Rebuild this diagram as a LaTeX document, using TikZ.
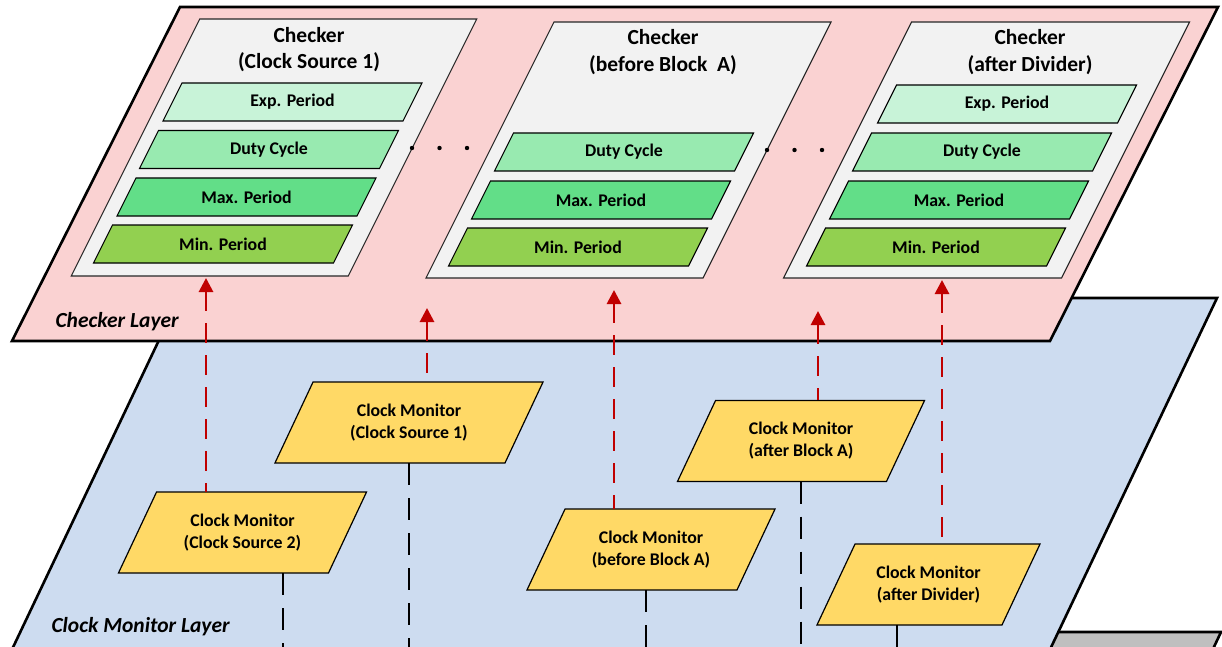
\documentclass[tikz,border=0pt]{standalone}
\usepackage{fontspec}
\setmainfont{Carlito}
\usetikzlibrary{arrows.meta,calc}

\definecolor{layerpink}{HTML}{FAD2D2}
\definecolor{layerblue}{HTML}{CDDCF0}
\definecolor{layergray}{HTML}{BFBFBF}
\definecolor{checkerbg}{HTML}{F2F2F2}
\definecolor{expcol}{HTML}{C8F3D8}
\definecolor{dutycol}{HTML}{98EAB0}
\definecolor{maxcol}{HTML}{62DE88}
\definecolor{mincol}{HTML}{92D050}
\definecolor{monitorcol}{HTML}{FFD966}
\definecolor{linkred}{HTML}{C00000}

% Slanted box: #1 outline style, #2 node name, #3 cx, #4 cy, #5 width, #6 height,
% #7 slant (horizontal shift per unit height), #8 node style, #9 text
\newcommand{\slanted}[9]{%
  \path[#1] ({#3-#5/2+#7*#6/2},{#4-#6/2}) -- ({#3+#5/2+#7*#6/2},{#4-#6/2})
    -- ({#3+#5/2-#7*#6/2},{#4+#6/2}) -- ({#3-#5/2-#7*#6/2},{#4+#6/2}) -- cycle;
  \node[#8, minimum width=#5pt, minimum height=#6pt, inner sep=0pt] (#2) at (#3,#4) {#9};}

\tikzset{
  layer/.style={draw=black, line width=2.6pt, line join=miter},
  chkbox/.style={draw=black!85, line width=1.1pt, fill=checkerbg},
  barbox/.style={draw=black, line width=1.1pt},
  monbox/.style={draw=black, line width=1.2pt, fill=monitorcol},
  bartext/.style={font=\fontsize{17.8}{22}\selectfont\bfseries},
  montext/.style={align=center, font=\fontsize{17.8}{22}\selectfont\bfseries},
  titletext/.style={align=center, font=\fontsize{21.5}{26.5}\selectfont\bfseries},
  layertext/.style={anchor=base west, font=\fontsize{21.5}{26}\selectfont\bfseries\itshape},
  redlink/.style={draw=linkred, line width=2.8pt, dash pattern=on 20pt off 12pt,
    {Triangle[width=14pt,length=14pt]}-},
  blacklink/.style={draw=black, line width=2.8pt, dash pattern=on 22pt off 13pt}
}

\begin{document}
\begin{tikzpicture}[x=1pt,y=-1pt]
\useasboundingbox (0,0) rectangle (1222,647);
\clip (0,0) rectangle (1222,647);

% layers, back to front
\path[layer, fill=layergray] (1000,632) -- (1221,632) -- (1189,700) -- (950,700) -- cycle;
\path[layer, fill=layerblue] (179,298) -- (1217,298) -- (1026,700) -- (-12,700) -- cycle;
\path[layer, fill=layerpink] (180,7) -- (1218,7) -- (1050,341) -- (12,341) -- cycle;

\node[layertext] (lblchk) at (52,327) {Checker Layer};
\node[layertext] (lblmon) at (48,632) {Clock Monitor Layer};

% checker blocks
\slanted{chkbox}{chk1}{274}{147.5}{277}{257}{0.5}{}{}
\slanted{chkbox}{chk2}{628.5}{150}{277}{256}{0.5}{}{}
\slanted{chkbox}{chk3}{986.5}{150}{278}{256}{0.5}{}{}

\node[titletext] (ttl1) at (309,49.5) {Checker\\(Clock Source 1)};
\node[titletext] (ttl2) at (663,52) {Checker\\(before Block~ A)};
\node[titletext] (ttl3) at (1030,52) {Checker\\(after Divider)};

% checks inside each block
\slanted{barbox, fill=expcol}{c1exp}{292.5}{102}{240}{38}{0.5}{bartext}{Exp. Period}
\slanted{barbox, fill=dutycol}{c1duty}{269}{149.5}{240}{38}{0.5}{bartext}{Duty Cycle}
\slanted{barbox, fill=maxcol}{c1max}{246.5}{197}{240}{38}{0.5}{bartext}{Max. Period}
\slanted{barbox, fill=mincol}{c1min}{223}{244}{240}{38}{0.5}{bartext}{Min. Period}

\slanted{barbox, fill=dutycol}{c2duty}{624}{152}{240}{38}{0.5}{bartext}{Duty Cycle}
\slanted{barbox, fill=maxcol}{c2max}{601}{200}{240}{38}{0.5}{bartext}{Max. Period}
\slanted{barbox, fill=mincol}{c2min}{578}{247}{240}{38}{0.5}{bartext}{Min. Period}

\slanted{barbox, fill=expcol}{c3exp}{1007}{104}{240}{38}{0.5}{bartext}{Exp. Period}
\slanted{barbox, fill=dutycol}{c3duty}{982}{152}{240}{38}{0.5}{bartext}{Duty Cycle}
\slanted{barbox, fill=maxcol}{c3max}{959}{200}{240}{38}{0.5}{bartext}{Max. Period}
\slanted{barbox, fill=mincol}{c3min}{936}{247}{240}{38}{0.5}{bartext}{Min. Period}

% ellipsis dots between blocks
\foreach \px in {412,439.5,467} \fill (\px,148) circle (2.2pt);
\foreach \px in {767,794.5,822} \fill (\px,150) circle (2.2pt);

% clock monitors
\slanted{monbox}{cs1}{409}{422.5}{230}{81}{0.47}{montext}{Clock Monitor\\(Clock Source 1)}
\slanted{monbox}{cs2}{242.5}{532.5}{210}{81}{0.47}{montext}{Clock Monitor\\(Clock Source 2)}
\slanted{monbox}{bfa}{651}{549.5}{210}{81}{0.47}{montext}{Clock Monitor\\(before Block A)}
\slanted{monbox}{afa}{801}{441}{209}{81}{0.47}{montext}{Clock Monitor\\(after Block A)}
\slanted{monbox}{afd}{928.5}{584.5}{185}{81}{0.47}{montext}{Clock Monitor\\(after Divider)}

% signal lines leaving the monitors downwards
\coordinate (d1) at (283,660);
\coordinate (d2) at (409,660);
\coordinate (d3) at (646,660);
\coordinate (d4) at (801,660);
\coordinate (d5) at (897,660);
\draw[blacklink] (cs2.south -| d1) -- (d1);
\draw[blacklink] (cs1.south -| d2) -- (d2);
\draw[blacklink] (bfa.south -| d3) -- (d3);
\draw[blacklink] (afa.south -| d4) -- (d4);
\draw[blacklink] (afd.south -| d5) -- (d5);

% monitor-to-checker links
\coordinate (a1) at (206,278);
\coordinate (a2) at (427,308);
\coordinate (a3) at (614,290);
\coordinate (a4) at (818,311);
\coordinate (a5) at (942,280);
\draw[redlink] (a1) -- (cs2.north -| a1);
\draw[redlink] (a2) -- (cs1.north -| a2);
\draw[redlink] (a3) -- (bfa.north -| a3);
\draw[redlink] (a4) -- (afa.north -| a4);
\draw[redlink] (a5) -- (afd.north -| a5);
\end{tikzpicture}
\end{document}
